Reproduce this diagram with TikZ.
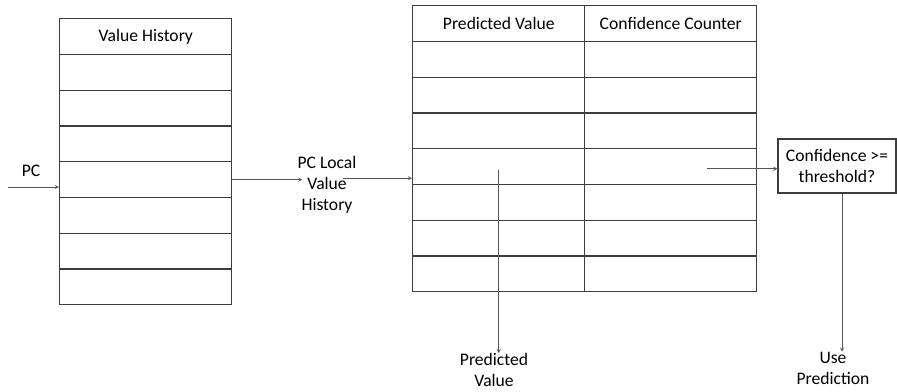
\documentclass[tikz,border=0pt]{standalone}
\usepackage{fontspec}
\setmainfont{Carlito}
\usetikzlibrary{matrix,positioning}
\definecolor{tabgray}{RGB}{60,60,60}
\definecolor{arrgray}{RGB}{85,85,85}

\begin{document}
\begin{tikzpicture}[x=1pt,y=-1pt,
	font=\fontsize{17.6}{21}\selectfont,
	cell/.style={draw=tabgray,line width=1.2pt,minimum height=35.75pt,minimum width=172pt,inner sep=0pt,outer sep=0pt,text=black},
	arr/.style={-stealth,draw=arrgray,line width=0.8pt},
	lbl/.style={align=center,text=black,inner sep=0pt}]
	\useasboundingbox (0,0) rectangle (897,391);
	% value history table
	\matrix (vh) [matrix of nodes,nodes in empty cells,anchor=north west,inner sep=0pt,row sep=-1.2pt,nodes={cell}] at (59,18)
	{
		Value History \\ \\ \\ \\ \\ \\ \\ \\};
	% prediction table
	\matrix (vpt) [matrix of nodes,nodes in empty cells,anchor=north west,inner sep=0pt,row sep=-1.2pt,column sep=-1.2pt,nodes={cell}] at (412,5)
	{
		Predicted Value & Confidence Counter \\
		& \\ & \\ & \\ & \\ & \\ & \\ & \\};
	\node[lbl] (pc) at (31,171) {PC};
	\coordinate (pcin) at (8,187);
	\node[lbl] (loc) at (327,185) {PC Local\\Value\\History};
	\node[draw=tabgray,line width=1.2pt,minimum width=118pt,minimum height=54pt,align=center,text=black,inner sep=0pt] (conf) at (837,166) {Confidence >=\\threshold?};
	\node[lbl] (pred) at (494,370) {Predicted\\Value};
	\node[lbl] (use) at (833,368) {Use\\Prediction};
	%\draw[dashed,->] (vh) -- (vpt);
	\draw[arr] (pcin) -- (pcin -| vh.west);
	\draw[arr] (vh-5-1.east) -- ([xshift=5pt]vh-5-1.east -| loc.west);
	\draw[arr] ([xshift=-14pt,yshift=1.5pt]loc.east |- vh-5-1.east) -- ([yshift=1.5pt]vh-5-1.east -| vpt.west);
	\draw[arr] ([yshift=-3pt]vpt-5-1.center) -- (vpt-5-1.center |- pred.north);
	\draw[arr] ([xshift=36pt,yshift=-2pt]vpt-5-2.center) -- ([yshift=-2pt]vpt-5-2.center -| conf.west);
	\draw[arr] ([xshift=5pt]conf.south) -- ([xshift=5pt]conf.south |- use.north);
\end{tikzpicture}
\end{document}
